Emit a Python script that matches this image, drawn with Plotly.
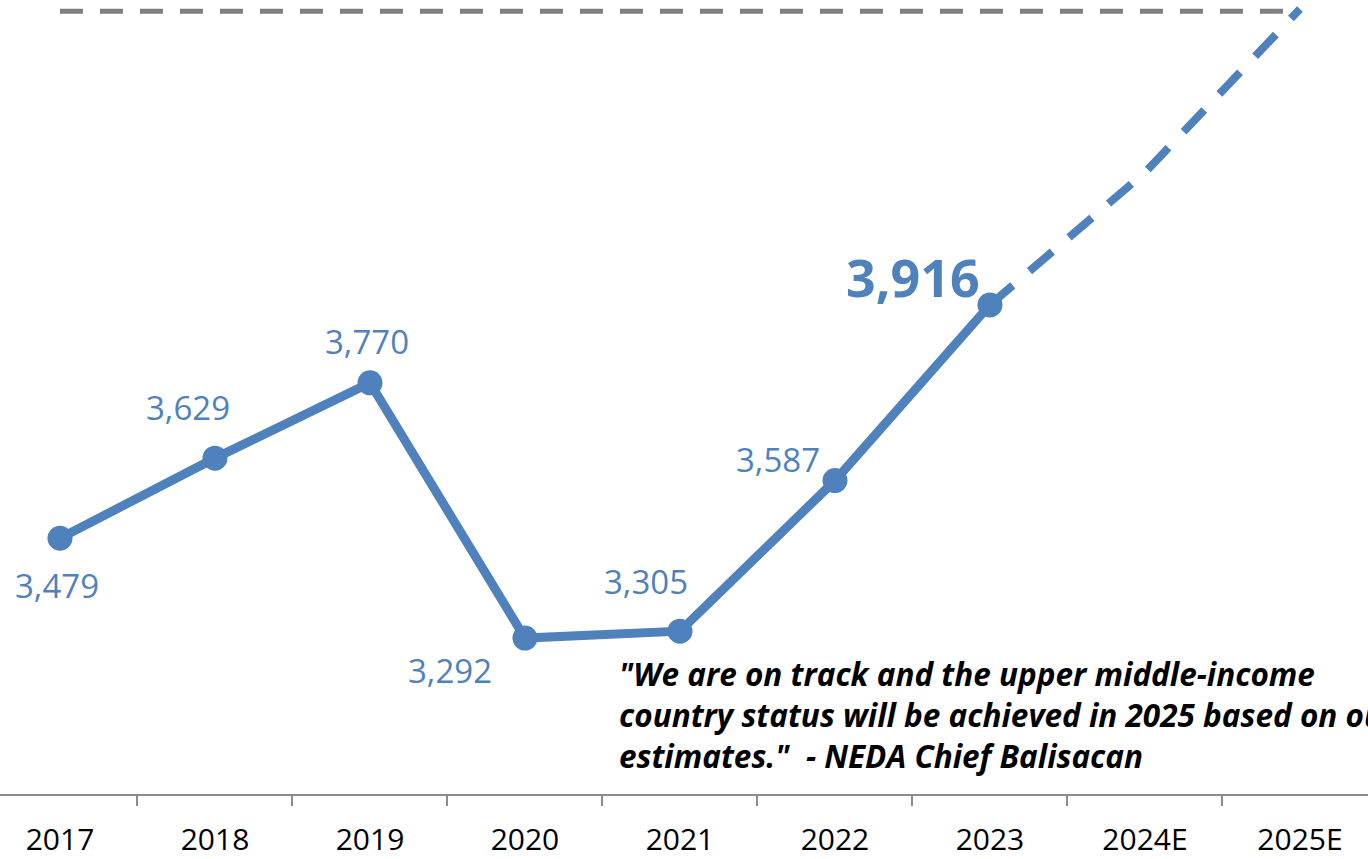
import plotly.graph_objects as go

# GNI per capita (US$) — actuals and projections
years = ["2017", "2018", "2019", "2020", "2021", "2022", "2023"]
gni_actual = [3479, 3629, 3770, 3292, 3305, 3587, 3916]
proj_years = ["2023", "2024E", "2025E"]
gni_proj = [3916, 4164, 4470]
all_years = ["2017", "2018", "2019", "2020", "2021", "2022", "2023", "2024E", "2025E"]
umic_threshold = 4466
quote_lines = [
    "\"We are on track and the upper middle-income",
    "country status will be achieved in 2025 based on our",
    "estimates.\"  - NEDA Chief Balisacan",
]

blue = "#4F81BD"
gray = "#808080"
label_font = "Open Sans, Noto Sans, sans-serif"

fig = go.Figure()

# upper-middle-income threshold
fig.add_trace(go.Scatter(
    x=[all_years[0], all_years[-1]], y=[umic_threshold, umic_threshold],
    mode="lines", line=dict(color=gray, width=5, dash="23px,17px"),
    hoverinfo="skip", showlegend=False,
))

# projected path
fig.add_trace(go.Scatter(
    x=proj_years, y=gni_proj, mode="lines",
    line=dict(color=blue, width=8, dash="30px,22px"),
    showlegend=False,
))

# actual values
fig.add_trace(go.Scatter(
    x=years, y=gni_actual, mode="lines+markers",
    line=dict(color=blue, width=9),
    marker=dict(color=blue, size=25),
    showlegend=False,
))

# value labels: (xshift, yshift) offsets per point; x given as category index
offsets = [(-3, -47), (-27, 51), (-3, 41), (-75, -32), (-34, 50), (-57, 21), (-77, 28)]
for i, v in enumerate(gni_actual):
    last = i == len(gni_actual) - 1
    fig.add_annotation(
        x=all_years.index(years[i]), y=v, xref="x", yref="y",
        text=f"<b>{v:,}</b>" if last else f"{v:,}",
        showarrow=False, xshift=offsets[i][0], yshift=offsets[i][1],
        font=dict(family=label_font, size=52 if last else 33, color=blue),
    )

# quote block
fig.add_annotation(
    x=617 / 1368, y=(797 - 717) / 797, xref="paper", yref="paper",
    xanchor="left", yanchor="middle", align="left", showarrow=False,
    text="<br>".join(f"<b><i>{line}</i></b>" for line in quote_lines),
    font=dict(family=label_font, size=31.5, color="black"),
)

fig.update_layout(
    width=1368, height=859,
    margin=dict(l=0, r=0, t=0, b=62),
    paper_bgcolor="white", plot_bgcolor="white",
    xaxis=dict(
        type="category", categoryorder="array", categoryarray=all_years,
        range=[-0.387, 8.439], tickson="boundaries",
        showline=True, linecolor="#8c8c8c", linewidth=2,
        ticks="outside", ticklen=10, tickcolor="#8c8c8c", tickwidth=2,
        ticklabelstandoff=18,
        showgrid=False, zeroline=False,
        tickfont=dict(family=label_font, size=30, color="black"),
    ),
    yaxis=dict(range=[3000, 4487], visible=False, showgrid=False, zeroline=False),
)

fig.write_html("out.html")
